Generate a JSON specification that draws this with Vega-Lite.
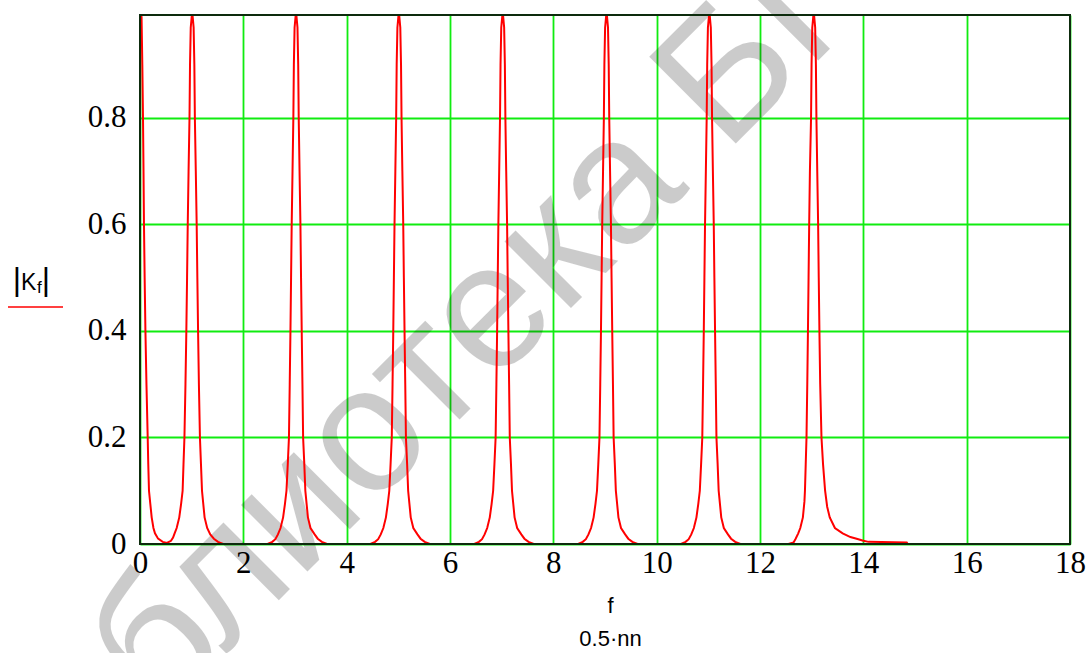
{
  "$schema": "https://vega.github.io/schema/vega-lite/v6.json",
  "width": 930,
  "height": 529,
  "autosize": "none",
  "padding": {"left": 140, "top": 15, "right": 22, "bottom": 109},
  "background": "white",
  "config": {
    "view": {"stroke": null},
    "axis": {
      "domain": false,
      "ticks": false,
      "grid": true,
      "gridColor": "#10ec10",
      "gridWidth": 1.8,
      "gridOpacity": 1,
      "labelFont": "Liberation Serif",
      "labelFontSize": 31,
      "labelColor": "#000000",
      "labelOverlap": false,
      "labelFlush": false,
      "labelBound": false,
      "titleFont": "Liberation Sans",
      "titleFontWeight": "normal",
      "titleColor": "#000000"
    }
  },
  "datasets": {
    "one": [{}],
    "kf": [
      {"f": 0, "k": 1}, {"f": 0.03, "k": 0.99}, {"f": 0.045, "k": 0.9}, {"f": 0.058, "k": 0.8}, {"f": 0.068, "k": 0.7}, {"f": 0.077, "k": 0.6}, {"f": 0.09, "k": 0.5}, {"f": 0.105, "k": 0.4}, {"f": 0.125, "k": 0.3}, {"f": 0.149, "k": 0.2}, {"f": 0.16, "k": 0.15}, {"f": 0.174, "k": 0.1}, {"f": 0.2, "k": 0.075}, {"f": 0.226, "k": 0.05}, {"f": 0.26, "k": 0.03}, {"f": 0.29, "k": 0.02}, {"f": 0.35, "k": 0.01}, {"f": 0.44, "k": 0.004}, {"f": 0.52, "k": 0.002},

      {"f": 0.6, "k": 0.006}, {"f": 0.64, "k": 0.012}, {"f": 0.67, "k": 0.02}, {"f": 0.71, "k": 0.03}, {"f": 0.76, "k": 0.05}, {"f": 0.795, "k": 0.075}, {"f": 0.825, "k": 0.1}, {"f": 0.842, "k": 0.15}, {"f": 0.86, "k": 0.2}, {"f": 0.88, "k": 0.3}, {"f": 0.897, "k": 0.4}, {"f": 0.911, "k": 0.5}, {"f": 0.924, "k": 0.6}, {"f": 0.94, "k": 0.7}, {"f": 0.958, "k": 0.8}, {"f": 0.968, "k": 0.9}, {"f": 0.982, "k": 0.97}, {"f": 1.01, "k": 1},
      {"f": 1.038, "k": 0.97}, {"f": 1.052, "k": 0.9}, {"f": 1.062, "k": 0.8}, {"f": 1.08, "k": 0.7}, {"f": 1.097, "k": 0.6}, {"f": 1.11, "k": 0.5}, {"f": 1.124, "k": 0.4}, {"f": 1.14, "k": 0.3}, {"f": 1.16, "k": 0.2}, {"f": 1.18, "k": 0.15}, {"f": 1.2, "k": 0.1}, {"f": 1.25, "k": 0.05}, {"f": 1.3, "k": 0.03}, {"f": 1.36, "k": 0.018}, {"f": 1.43, "k": 0.01}, {"f": 1.51, "k": 0.004}, {"f": 1.61, "k": 0},

      {"f": 2.47, "k": 0}, {"f": 2.56, "k": 0.004}, {"f": 2.62, "k": 0.009}, {"f": 2.67, "k": 0.018}, {"f": 2.72, "k": 0.03}, {"f": 2.77, "k": 0.05}, {"f": 2.805, "k": 0.075}, {"f": 2.835, "k": 0.1}, {"f": 2.86, "k": 0.15}, {"f": 2.883, "k": 0.2}, {"f": 2.898, "k": 0.3}, {"f": 2.912, "k": 0.4}, {"f": 2.924, "k": 0.5}, {"f": 2.936, "k": 0.6}, {"f": 2.952, "k": 0.7}, {"f": 2.968, "k": 0.8}, {"f": 2.978, "k": 0.9}, {"f": 2.992, "k": 0.97}, {"f": 3.02, "k": 1},
      {"f": 3.048, "k": 0.97}, {"f": 3.062, "k": 0.9}, {"f": 3.072, "k": 0.8}, {"f": 3.088, "k": 0.7}, {"f": 3.105, "k": 0.6}, {"f": 3.117, "k": 0.5}, {"f": 3.13, "k": 0.4}, {"f": 3.144, "k": 0.3}, {"f": 3.157, "k": 0.2}, {"f": 3.18, "k": 0.15}, {"f": 3.2, "k": 0.1}, {"f": 3.25, "k": 0.05}, {"f": 3.3, "k": 0.03}, {"f": 3.38, "k": 0.018}, {"f": 3.44, "k": 0.01}, {"f": 3.52, "k": 0.004}, {"f": 3.62, "k": 0},

      {"f": 4.46, "k": 0}, {"f": 4.55, "k": 0.004}, {"f": 4.61, "k": 0.009}, {"f": 4.66, "k": 0.018}, {"f": 4.71, "k": 0.03}, {"f": 4.76, "k": 0.05}, {"f": 4.795, "k": 0.075}, {"f": 4.825, "k": 0.1}, {"f": 4.85, "k": 0.15}, {"f": 4.873, "k": 0.2}, {"f": 4.888, "k": 0.3}, {"f": 4.902, "k": 0.4}, {"f": 4.914, "k": 0.5}, {"f": 4.926, "k": 0.6}, {"f": 4.942, "k": 0.7}, {"f": 4.958, "k": 0.8}, {"f": 4.968, "k": 0.9}, {"f": 4.982, "k": 0.97}, {"f": 5.01, "k": 1},
      {"f": 5.038, "k": 0.97}, {"f": 5.052, "k": 0.9}, {"f": 5.062, "k": 0.8}, {"f": 5.078, "k": 0.7}, {"f": 5.095, "k": 0.6}, {"f": 5.107, "k": 0.5}, {"f": 5.12, "k": 0.4}, {"f": 5.134, "k": 0.3}, {"f": 5.147, "k": 0.2}, {"f": 5.17, "k": 0.15}, {"f": 5.19, "k": 0.1}, {"f": 5.24, "k": 0.05}, {"f": 5.29, "k": 0.03}, {"f": 5.37, "k": 0.018}, {"f": 5.43, "k": 0.01}, {"f": 5.51, "k": 0.004}, {"f": 5.61, "k": 0},

      {"f": 6.47, "k": 0}, {"f": 6.56, "k": 0.004}, {"f": 6.62, "k": 0.009}, {"f": 6.67, "k": 0.018}, {"f": 6.72, "k": 0.03}, {"f": 6.77, "k": 0.05}, {"f": 6.805, "k": 0.075}, {"f": 6.835, "k": 0.1}, {"f": 6.86, "k": 0.15}, {"f": 6.883, "k": 0.2}, {"f": 6.898, "k": 0.3}, {"f": 6.912, "k": 0.4}, {"f": 6.924, "k": 0.5}, {"f": 6.936, "k": 0.6}, {"f": 6.952, "k": 0.7}, {"f": 6.968, "k": 0.8}, {"f": 6.978, "k": 0.9}, {"f": 6.992, "k": 0.97}, {"f": 7.02, "k": 1},
      {"f": 7.048, "k": 0.97}, {"f": 7.062, "k": 0.9}, {"f": 7.072, "k": 0.8}, {"f": 7.088, "k": 0.7}, {"f": 7.105, "k": 0.6}, {"f": 7.117, "k": 0.5}, {"f": 7.13, "k": 0.4}, {"f": 7.144, "k": 0.3}, {"f": 7.157, "k": 0.2}, {"f": 7.18, "k": 0.15}, {"f": 7.2, "k": 0.1}, {"f": 7.25, "k": 0.05}, {"f": 7.3, "k": 0.03}, {"f": 7.38, "k": 0.018}, {"f": 7.44, "k": 0.01}, {"f": 7.52, "k": 0.004}, {"f": 7.62, "k": 0},

      {"f": 8.48, "k": 0}, {"f": 8.57, "k": 0.004}, {"f": 8.63, "k": 0.009}, {"f": 8.68, "k": 0.018}, {"f": 8.73, "k": 0.03}, {"f": 8.78, "k": 0.05}, {"f": 8.815, "k": 0.075}, {"f": 8.845, "k": 0.1}, {"f": 8.87, "k": 0.15}, {"f": 8.893, "k": 0.2}, {"f": 8.908, "k": 0.3}, {"f": 8.922, "k": 0.4}, {"f": 8.934, "k": 0.5}, {"f": 8.946, "k": 0.6}, {"f": 8.962, "k": 0.7}, {"f": 8.978, "k": 0.8}, {"f": 8.988, "k": 0.9}, {"f": 9.002, "k": 0.97}, {"f": 9.03, "k": 1},
      {"f": 9.058, "k": 0.97}, {"f": 9.072, "k": 0.9}, {"f": 9.082, "k": 0.8}, {"f": 9.098, "k": 0.7}, {"f": 9.115, "k": 0.6}, {"f": 9.127, "k": 0.5}, {"f": 9.14, "k": 0.4}, {"f": 9.154, "k": 0.3}, {"f": 9.167, "k": 0.2}, {"f": 9.19, "k": 0.15}, {"f": 9.21, "k": 0.1}, {"f": 9.26, "k": 0.05}, {"f": 9.31, "k": 0.03}, {"f": 9.39, "k": 0.018}, {"f": 9.45, "k": 0.01}, {"f": 9.53, "k": 0.004}, {"f": 9.63, "k": 0},

      {"f": 10.47, "k": 0}, {"f": 10.56, "k": 0.004}, {"f": 10.62, "k": 0.009}, {"f": 10.67, "k": 0.018}, {"f": 10.72, "k": 0.03}, {"f": 10.77, "k": 0.05}, {"f": 10.805, "k": 0.075}, {"f": 10.835, "k": 0.1}, {"f": 10.86, "k": 0.15}, {"f": 10.883, "k": 0.2}, {"f": 10.898, "k": 0.3}, {"f": 10.912, "k": 0.4}, {"f": 10.924, "k": 0.5}, {"f": 10.936, "k": 0.6}, {"f": 10.952, "k": 0.7}, {"f": 10.968, "k": 0.8}, {"f": 10.978, "k": 0.9}, {"f": 10.992, "k": 0.97}, {"f": 11.02, "k": 1},
      {"f": 11.048, "k": 0.97}, {"f": 11.062, "k": 0.9}, {"f": 11.072, "k": 0.8}, {"f": 11.088, "k": 0.7}, {"f": 11.105, "k": 0.6}, {"f": 11.117, "k": 0.5}, {"f": 11.13, "k": 0.4}, {"f": 11.144, "k": 0.3}, {"f": 11.157, "k": 0.2}, {"f": 11.18, "k": 0.15}, {"f": 11.2, "k": 0.1}, {"f": 11.25, "k": 0.05}, {"f": 11.3, "k": 0.03}, {"f": 11.38, "k": 0.018}, {"f": 11.44, "k": 0.01}, {"f": 11.52, "k": 0.004}, {"f": 11.62, "k": 0},

      {"f": 12.55, "k": 0}, {"f": 12.65, "k": 0.003}, {"f": 12.69, "k": 0.01}, {"f": 12.74, "k": 0.02}, {"f": 12.78, "k": 0.03}, {"f": 12.83, "k": 0.05}, {"f": 12.86, "k": 0.08}, {"f": 12.87, "k": 0.1}, {"f": 12.885, "k": 0.15}, {"f": 12.9, "k": 0.2}, {"f": 12.915, "k": 0.3}, {"f": 12.928, "k": 0.4}, {"f": 12.94, "k": 0.5}, {"f": 12.952, "k": 0.6}, {"f": 12.966, "k": 0.7}, {"f": 12.988, "k": 0.8}, {"f": 12.998, "k": 0.9}, {"f": 13.012, "k": 0.97}, {"f": 13.04, "k": 1},
      {"f": 13.068, "k": 0.97}, {"f": 13.082, "k": 0.9}, {"f": 13.092, "k": 0.8}, {"f": 13.108, "k": 0.7}, {"f": 13.125, "k": 0.6}, {"f": 13.137, "k": 0.5}, {"f": 13.15, "k": 0.4}, {"f": 13.165, "k": 0.3}, {"f": 13.19, "k": 0.2}, {"f": 13.22, "k": 0.15}, {"f": 13.26, "k": 0.1}, {"f": 13.3, "k": 0.07}, {"f": 13.35, "k": 0.05}, {"f": 13.45, "k": 0.03}, {"f": 13.6, "k": 0.02}, {"f": 13.75, "k": 0.013}, {"f": 13.87, "k": 0.01}, {"f": 14.0, "k": 0.006}, {"f": 14.1, "k": 0.004}, {"f": 14.84, "k": 0.003}, {"f": 14.86, "k": 0}, {"f": 18, "k": 0}
    ]
  },
  "layer": [
    {
      "data": {"name": "one"},
      "mark": {"type": "text", "text": "Библиотека БГУИР", "font": "Liberation Sans", "fontSize": 178, "angle": -45, "align": "left", "baseline": "alphabetic", "color": "#000000", "opacity": 0.2},
      "encoding": {"x": {"datum": -2.593}, "y": {"datum": -0.6178}}
    },
    {
      "data": {"name": "kf"},
      "mark": {"type": "line", "color": "#ff0000", "strokeWidth": 2, "clip": true, "interpolate": "linear"},
      "encoding": {
        "x": {
          "field": "f", "type": "quantitative",
          "scale": {"domain": [0, 18], "nice": false, "zero": false},
          "axis": {
            "values": [0, 2, 4, 6, 8, 10, 12, 14, 16, 18],
            "format": "d",
            "labelPadding": 4,
            "labelDx": 5,
            "title": ["f", "0.5·nn"],
            "titleFontSize": 22,
            "titleLineHeight": 33,
            "titleAlign": "center",
            "titleBaseline": "top",
            "titleX": 470,
            "titleY": 51
          }
        },
        "y": {
          "field": "k", "type": "quantitative",
          "scale": {"domain": [0, 0.9934], "nice": false, "zero": false},
          "axis": {
            "values": [0, 0.2, 0.4, 0.6, 0.8],
            "format": ".1~f",
            "labelPadding": 14,
            "labelDy": 2,
            "title": null
          }
        }
      }
    },
    {
      "data": {"name": "one"},
      "mark": {"type": "text", "text": "|", "font": "Liberation Sans", "fontSize": 32, "align": "center", "baseline": "middle", "color": "#000000"},
      "encoding": {"x": {"datum": -2.381}, "y": {"datum": 0.4958}}
    },
    {
      "data": {"name": "one"},
      "mark": {"type": "text", "text": "K", "font": "Liberation Sans", "fontSize": 23, "align": "left", "baseline": "alphabetic", "color": "#000000"},
      "encoding": {"x": {"datum": -2.303}, "y": {"datum": 0.477}}
    },
    {
      "data": {"name": "one"},
      "mark": {"type": "text", "text": "f", "font": "Liberation Sans", "fontSize": 17, "align": "left", "baseline": "alphabetic", "color": "#000000"},
      "encoding": {"x": {"datum": -1.994}, "y": {"datum": 0.4714}}
    },
    {
      "data": {"name": "one"},
      "mark": {"type": "text", "text": "|", "font": "Liberation Sans", "fontSize": 32, "align": "center", "baseline": "middle", "color": "#000000"},
      "encoding": {"x": {"datum": -1.819}, "y": {"datum": 0.4958}}
    },
    {
      "data": {"name": "one"},
      "mark": {"type": "rule", "color": "#ff0000", "strokeWidth": 1.5},
      "encoding": {"x": {"datum": -2.555}, "x2": {"datum": -1.49}, "y": {"datum": 0.4451}}
    },
    {
      "data": {"name": "one"},
      "mark": {"type": "rect", "filled": false, "stroke": "#0d2b0d", "strokeWidth": 2},
      "encoding": {"x": {"datum": 0}, "x2": {"datum": 18}, "y": {"datum": 0}, "y2": {"datum": 0.9934}}
    }
  ]
}
